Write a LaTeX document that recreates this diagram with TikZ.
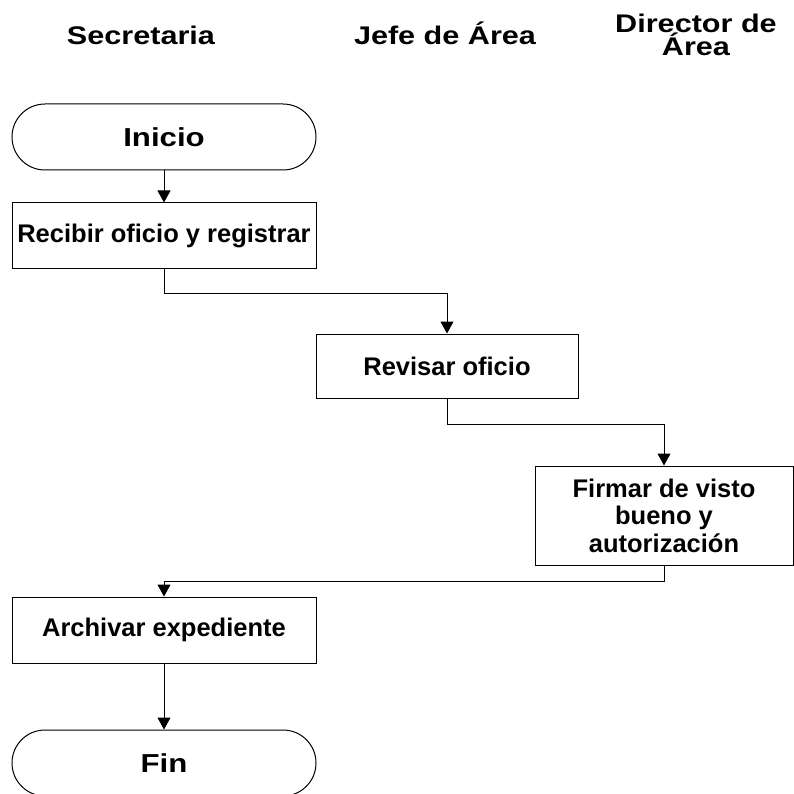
\documentclass[tikz,border=0pt]{standalone}
\usepackage{fontspec}
\setmainfont{Liberation Sans}
\newfontfamily\hdrfont[FakeStretch=1.2]{Liberation Sans}
\usetikzlibrary{arrows.meta}
\begin{document}
\begin{tikzpicture}[x=1pt,y=-1pt,line width=1pt,
  box/.style={draw, rectangle, inner sep=0pt, align=center,
    font=\bfseries\fontsize{25.5}{27.5}\selectfont},
  term/.style={draw, rectangle, rounded corners=33pt, inner sep=0pt,
    font=\hdrfont\bfseries\fontsize{26}{26}\selectfont,
    minimum width=304pt, minimum height=66pt},
  hdr/.style={font=\hdrfont\bfseries\fontsize{25.5}{23.5}\selectfont,
    align=center, anchor=base, inner sep=0pt},
  flow/.style={-{Triangle[width=13pt,length=12pt]}}]
\useasboundingbox (0,0) rectangle (793,794);

\node[hdr] (h1) at (141,45) {Secretaria};
\node[hdr] (h2) at (445,45) {Jefe de Área};
\node[hdr] (h3) at (696,56) {Director de\\Área};

\node[term] (inicio) at (164,137) {Inicio};
\node[box, minimum width=304pt, minimum height=65pt] (recibir) at (164,235.5) {Recibir oficio y registrar};
\node[box, minimum width=262pt, minimum height=64pt] (revisar) at (447,366) {Revisar oficio};
\node[box, minimum width=258pt, minimum height=99pt] (firmar) at (664,515.5) {Firmar de visto\\bueno y\\autorización};
\node[box, minimum width=304pt, minimum height=66pt] (archivar) at (164,630) {Archivar expediente};
\node[term] (fin) at (164,763) {Fin};

\draw[flow] (inicio.south) -- (recibir.north);
\draw[flow] (recibir.south) -- ++(0,25) -| (revisar.north);
\draw[flow] (revisar.south) -- ++(0,26) -| (firmar.north);
\draw[flow] (firmar.south) -- ++(0,16) -| (archivar.north);
\draw[flow] (archivar.south) -- (fin.north);
\end{tikzpicture}
\end{document}
